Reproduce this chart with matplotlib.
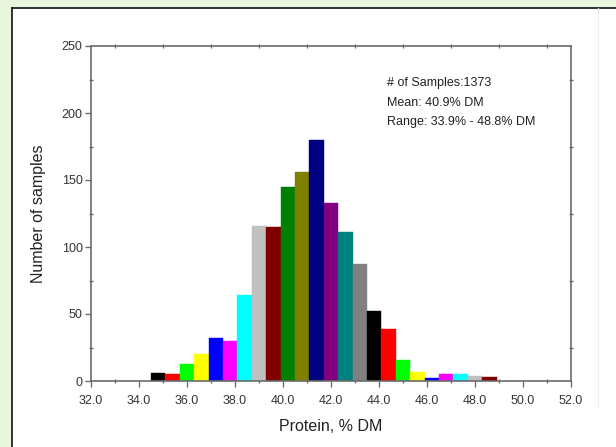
import matplotlib
matplotlib.use('Agg')
import matplotlib.pyplot as plt
from matplotlib.patches import Rectangle
from matplotlib.ticker import MultipleLocator

plt.rcParams['font.family'] = ['Liberation Sans', 'DejaVu Sans']

# bin centres (% DM) and counts
bin_start = 34.5
bin_width = 0.6
counts = [6, 5, 13, 20, 32, 30, 64, 116, 115, 145, 156, 180,
          133, 111, 87, 52, 39, 16, 7, 2, 5, 5, 4, 3]
centers = [bin_start + bin_width * (i + 0.5) for i in range(len(counts))]

# Origin-style colour increment
palette = ['#000000', '#ff0000', '#00ff00', '#ffff00', '#0000ff', '#ff00ff',
           '#00ffff', '#c0c0c0', '#800000', '#008000', '#808000', '#000080',
           '#800080', '#008080', '#808080']
colors = [palette[i % len(palette)] for i in range(len(counts))]

x_ticks = [32, 34, 36, 38, 40, 42, 44, 46, 48, 50, 52]
y_ticks = [0, 50, 100, 150, 200, 250]
info = "# of Samples:1373\nMean: 40.9% DM\nRange: 33.9% - 48.8% DM"

fig = plt.figure(figsize=(6.16, 4.47), dpi=100)
fig.patch.set_facecolor('#e9f5dc')

# white panel with dark left/top edge, behind the axes
top = 1 - 8 / 447
left = 12 / 616
fig.add_artist(Rectangle((left, 0), 1, top, transform=fig.transFigure,
                         facecolor='white', edgecolor='none', zorder=-10))
fig.add_artist(plt.Line2D([left, left], [0, top], transform=fig.transFigure,
                          color='#222222', lw=1.3, zorder=-5))
fig.add_artist(plt.Line2D([left, 1], [top, top], transform=fig.transFigure,
                          color='#222222', lw=1.3, zorder=-5))
fig.add_artist(plt.Line2D([598 / 616, 598 / 616], [0.09, top],
                          transform=fig.transFigure, color='#eeeeee',
                          lw=0.8, zorder=-5))

ax = fig.add_axes([91 / 616, 1 - 381 / 447, 480 / 616, 335 / 447])
ax.set_facecolor('white')
ax.bar(centers, counts, width=bin_width, color=colors, edgecolor=colors,
       linewidth=0.3, zorder=2)

ax.set_xlim(32, 52)
ax.set_ylim(0, 250)
ax.set_xticks(x_ticks)
ax.set_xticklabels([f"{v:.1f}" for v in x_ticks])
ax.set_yticks(y_ticks)
ax.xaxis.set_minor_locator(MultipleLocator(1))
ax.yaxis.set_minor_locator(MultipleLocator(25))

for s in ax.spines.values():
    s.set_color('#6b6b6b')
    s.set_linewidth(1.2)
ax.tick_params(which='major', direction='out', length=4, width=1,
               color='#6b6b6b', labelsize=9, labelcolor='#333333', pad=2)
ax.tick_params(axis='x', which='major', pad=6)
ax.tick_params(which='minor', direction='inout', length=3, width=1,
               color='#6b6b6b', top=True, right=True)

ax.set_xlabel('Protein, % DM', fontsize=11.5, color='#222222', labelpad=9)
ax.set_ylabel('Number of samples', fontsize=11.5, color='#222222', labelpad=11)

ax.text(44.35, 226.5, info, fontsize=9, color='#222222', va='top',
        ha='left', linespacing=1.8)

plt.savefig('out.png', dpi=100, facecolor=fig.get_facecolor())
